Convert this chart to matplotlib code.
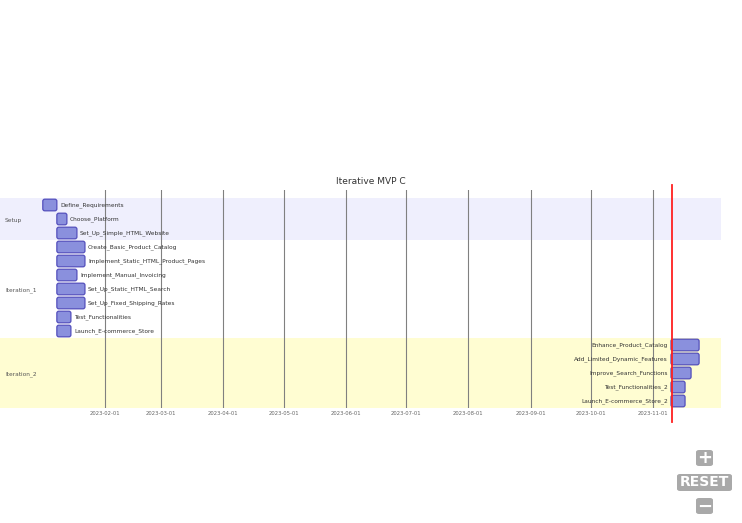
import matplotlib
matplotlib.use("Agg")
import matplotlib.pyplot as plt
import matplotlib.dates as mdates
from matplotlib.patches import FancyBboxPatch
import datetime as dt

# ---------------- data ----------------
title = "Iterative MVP C"
sections = ["Setup", "Iteration_1", "Iteration_2"]
tasks = [
    "Define_Requirements", "Choose_Platform", "Set_Up_Simple_HTML_Website",
    "Create_Basic_Product_Catalog", "Implement_Static_HTML_Product_Pages",
    "Implement_Manual_Invoicing", "Set_Up_Static_HTML_Search",
    "Set_Up_Fixed_Shipping_Rates", "Test_Functionalities", "Launch_E-commerce_Store",
    "Enhance_Product_Catalog", "Add_Limited_Dynamic_Features",
    "Improve_Search_Functions", "Test_Functionalities_2", "Launch_E-commerce_Store_2",
]
task_section = [0, 0, 0, 1, 1, 1, 1, 1, 1, 1, 2, 2, 2, 2, 2]
starts = [
    "2023-01-01", "2023-01-08", "2023-01-08",
    "2023-01-08", "2023-01-08", "2023-01-08", "2023-01-08",
    "2023-01-08", "2023-01-08", "2023-01-08",
    "2023-11-10", "2023-11-10", "2023-11-10", "2023-11-10", "2023-11-10",
]
durations = [7, 5, 10, 14, 14, 10, 14, 14, 7, 7, 14, 14, 10, 7, 7]
today = "2023-11-10 12:00"
tick_dates = ["2023-02-01", "2023-03-01", "2023-04-01", "2023-05-01", "2023-06-01",
              "2023-07-01", "2023-08-01", "2023-09-01", "2023-10-01", "2023-11-01"]
section_colors = ["#efeffd", "#ffffff", "#fffdd2"]

# ---------------- layout ----------------
W, H = 742, 523
fig = plt.figure(figsize=(W / 100, H / 100), dpi=100)
fig.patch.set_facecolor("white")

ax_top_px, ax_bot_px = 190, 408
ax = fig.add_axes([0, (H - ax_bot_px) / H, 1, (ax_bot_px - ax_top_px) / H])
ax.set_facecolor("none")
for s in ax.spines.values():
    s.set_visible(False)

px_per_day = 2.007
origin_px = 42.8
d0 = mdates.date2num(dt.datetime(2023, 1, 1))
xmin = d0 - origin_px / px_per_day
xmax = xmin + W / px_per_day
ax.set_xlim(xmin, xmax)

row_px = 14
n = len(tasks)
ax.set_ylim(n - 0.5, -0.5 - (198 - ax_top_px) / row_px)

# section backgrounds
sec_rows = {}
for i, s in enumerate(task_section):
    sec_rows.setdefault(s, []).append(i)
for s, rows in sec_rows.items():
    y0, y1 = min(rows) - 0.5, max(rows) + 0.5
    ax.axhspan(y0, y1, xmin=0, xmax=721 / W, color=section_colors[s], zorder=0, lw=0)
    ax.text(5 / W, (y0 + y1) / 2 + 0.1, sections[s], transform=ax.get_yaxis_transform(),
            ha="left", va="center", fontsize=4.2, color="#555555", zorder=5)

# grid / ticks
ticks = [mdates.date2num(dt.datetime.strptime(t, "%Y-%m-%d")) for t in tick_dates]
ax.set_xticks(ticks)
ax.set_xticklabels(tick_dates, fontsize=3.8, color="#666666")
ax.tick_params(axis="x", length=0, pad=2.5)
ax.set_yticks([])
for t in ticks:
    ax.axvline(t, color="#808080", lw=0.8, zorder=1)

# bars
days_to_rows = px_per_day / row_px
bar_h = 0.83
for i, (name, st, du) in enumerate(zip(tasks, starts, durations)):
    x0 = mdates.date2num(dt.datetime.strptime(st, "%Y-%m-%d"))
    patch = FancyBboxPatch((x0, i - bar_h / 2), du, bar_h,
                           boxstyle="round,pad=0,rounding_size=1.0",
                           mutation_aspect=days_to_rows,
                           facecolor="#8a90dd", edgecolor="#534fbc", lw=0.9, zorder=3)
    ax.add_patch(patch)
    if task_section[i] == 2:
        ax.annotate(name, (x0, i), xytext=(-2.2, 0), textcoords="offset points",
                    ha="right", va="center", fontsize=4.2, color="#333333", zorder=5)
    else:
        ax.annotate(name, (x0 + du, i), xytext=(2.2, 0), textcoords="offset points",
                    ha="left", va="center", fontsize=4.2, color="#333333", zorder=5)

# today marker
tnum = mdates.date2num(dt.datetime.strptime(today, "%Y-%m-%d %H:%M"))
hpx = ax_bot_px - ax_top_px
ax.axvline(tnum, ymin=(ax_bot_px - 422) / hpx, ymax=(ax_bot_px - 185) / hpx,
           color="#ff2020", lw=1.3, zorder=6, clip_on=False)

# title
fig.text(371 / W, 1 - 181 / H, title, ha="center", va="center",
         fontsize=6.5, color="#333333")

# zoom buttons (UI decoration)
grey = "#a9a9a9"
def px_box(x0, y0, w, h):
    return FancyBboxPatch((x0 / W, 1 - (y0 + h) / H), w / W, h / H,
                          boxstyle="round,pad=0,rounding_size=0.004",
                          transform=fig.transFigure, facecolor=grey, edgecolor="none")
fig.patches.append(px_box(696, 450, 17, 16))
fig.patches.append(px_box(677, 474, 55, 17))
fig.patches.append(px_box(696, 498, 17, 16))
fig.text(704.5 / W, 1 - 458 / H, "+", ha="center", va="center", fontsize=13,
         fontweight="bold", color="white")
fig.text(704.5 / W, 1 - 482.5 / H, "RESET", ha="center", va="center", fontsize=10,
         fontweight="bold", color="white")
fig.text(704.5 / W, 1 - 506.5 / H, "\u2212", ha="center", va="center", fontsize=13,
         fontweight="bold", color="white")

fig.savefig("out.png", dpi=100)
